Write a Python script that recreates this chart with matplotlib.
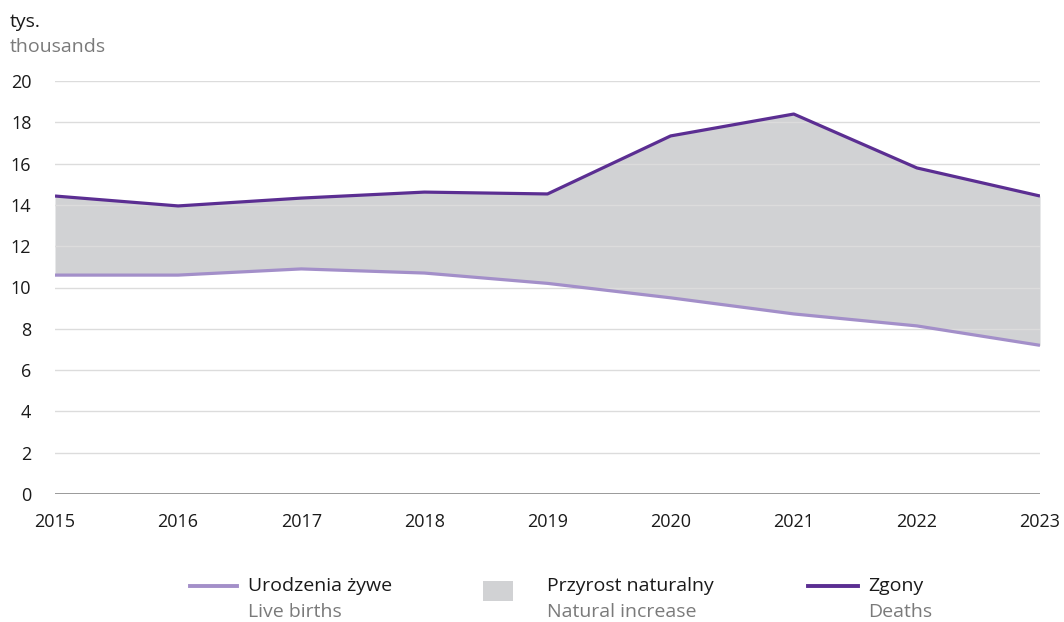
import matplotlib
matplotlib.use("Agg")
import matplotlib.pyplot as plt
from matplotlib.lines import Line2D
from matplotlib.patches import Rectangle

plt.rcParams['font.family'] = ['Open Sans', 'DejaVu Sans']

years = [2015, 2016, 2017, 2018, 2019, 2020, 2021, 2022, 2023]
deaths = [14.43, 13.95, 14.33, 14.62, 14.53, 17.34, 18.40, 15.79, 14.43]
births = [10.6, 10.6, 10.9, 10.7, 10.2, 9.5, 8.72, 8.14, 7.2]
yticks = [0, 2, 4, 6, 8, 10, 12, 14, 16, 18, 20]

c_deaths = '#5b2e92'
c_births = '#a38fc9'
c_fill = '#d1d2d4'
c_grey = '#7a7a7a'
fs = 14

fig = plt.figure(figsize=(10.64, 6.22), dpi=100)
ax = fig.add_axes([55/1064, 1 - 494/622, (1040-55)/1064, (494-81)/622])

ax.fill_between(years, births, deaths, color=c_fill, lw=0, zorder=1)
ax.plot(years, births, color=c_births, lw=2.3, zorder=3, solid_capstyle='butt')
ax.plot(years, deaths, color=c_deaths, lw=2.3, zorder=4, solid_capstyle='butt')

ax.set_xlim(2015, 2023)
ax.set_ylim(0, 20)
ax.set_yticks(yticks)
ax.set_xticks(years)
ax.grid(axis='y', color='#dcdcdc', lw=1, zorder=0)
ax.axhline(0, color='#8a8a8a', lw=1.2, zorder=2)
for s in ax.spines.values():
    s.set_visible(False)
ax.tick_params(axis='both', length=0, labelsize=13, colors='#1a1a1a')
ax.tick_params(axis='y', pad=17)
ax.tick_params(axis='x', pad=14)

fig.text(10/1064, 1 - 22/622, 'tys.', fontsize=fs, color='#1a1a1a', va='center')
fig.text(10/1064, 1 - 47/622, 'thousands', fontsize=fs, color=c_grey, va='center')

# legend
def ly(p):
    return 1 - p/622

fig.add_artist(Line2D([190/1064, 237/1064], [ly(586), ly(586)], color=c_births, lw=2.8))
fig.text(248/1064, ly(586), 'Urodzenia żywe', fontsize=fs, color='#1a1a1a', va='center')
fig.text(248/1064, ly(612), 'Live births', fontsize=fs, color=c_grey, va='center')

fig.add_artist(Rectangle((483/1064, ly(601)), 30/1064, 20/622, color=c_fill, lw=0))
fig.text(547/1064, ly(586), 'Przyrost naturalny', fontsize=fs, color='#1a1a1a', va='center')
fig.text(547/1064, ly(612), 'Natural increase', fontsize=fs, color=c_grey, va='center')

fig.add_artist(Line2D([808/1064, 858/1064], [ly(586), ly(586)], color=c_deaths, lw=2.8))
fig.text(868/1064, ly(586), 'Zgony', fontsize=fs, color='#1a1a1a', va='center')
fig.text(868/1064, ly(612), 'Deaths', fontsize=fs, color=c_grey, va='center')

fig.savefig('out.png', dpi=100)
